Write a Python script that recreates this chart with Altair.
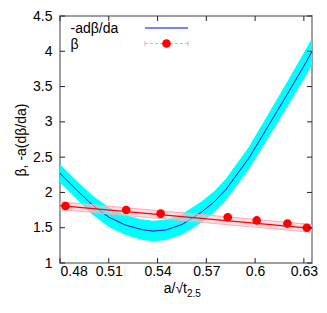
import altair as alt
import pandas as pd

# ---- data ----
beta_x = [0.4834, 0.5207, 0.5419, 0.5832, 0.6010, 0.6199, 0.6318]
beta_y = [1.808, 1.751, 1.700, 1.648, 1.603, 1.559, 1.500]

fit_x = [0.480, 0.635]
fit_y = [1.812, 1.490]
fit_lo = [1.757, 1.435]
fit_hi = [1.867, 1.545]

deriv_x = [0.480, 0.490, 0.500, 0.510, 0.520, 0.530, 0.537, 0.545, 0.555,
           0.567, 0.575, 0.582, 0.596, 0.607, 0.620, 0.632, 0.635]
deriv_y = [2.27, 2.04, 1.82, 1.65, 1.54, 1.475, 1.452, 1.468, 1.545,
           1.72, 1.87, 2.04, 2.48, 2.90, 3.40, 3.87, 4.00]
deriv_lo = [2.14, 1.91, 1.685, 1.51, 1.40, 1.33, 1.307, 1.323, 1.40,
            1.57, 1.718, 1.885, 2.32, 2.73, 3.22, 3.68, 3.81]
deriv_hi = [2.40, 2.17, 1.955, 1.79, 1.68, 1.62, 1.597, 1.613, 1.69,
            1.87, 2.022, 2.195, 2.64, 3.07, 3.58, 4.06, 4.19]

x_ticks = [0.48, 0.51, 0.54, 0.57, 0.60, 0.63]
y_ticks = [1.0, 1.5, 2.0, 2.5, 3.0, 3.5, 4.0, 4.5]

FONT = "Liberation Sans"
W, H = 252, 247
Y_TITLE = "β, -a(dβ/da)"

deriv_df = pd.DataFrame({"x": deriv_x, "y": deriv_y, "lo": deriv_lo, "hi": deriv_hi})
fit_df = pd.DataFrame({"x": fit_x, "y": fit_y, "lo": fit_lo, "hi": fit_hi})
beta_df = pd.DataFrame({"x": beta_x, "y": beta_y})
xt_df = pd.DataFrame({"x": x_ticks})
yt_df = pd.DataFrame({"y": y_ticks})

xs = alt.Scale(domain=[0.48, 0.635], nice=False, zero=False)
ys = alt.Scale(domain=[1, 4.5], nice=False, zero=False)

xaxis = alt.Axis(values=x_ticks, format="~g", grid=False, domain=False,
                 ticks=False, tickSize=0, labelPadding=1,
                 labelFont=FONT, labelFontSize=14, labelColor="black")
yaxis = alt.Axis(values=y_ticks, format="~g", grid=False, domain=False,
                 ticks=False, tickSize=0, labelPadding=8,
                 labelFont=FONT, labelFontSize=14, labelColor="black",
                 titleFont=FONT, titleFontSize=14, titleFontWeight="normal",
                 titleColor="black", titlePadding=4)


def X(f="x"):
    return alt.X(f"{f}:Q", scale=xs, axis=xaxis, title=None)


def Y(f="y"):
    return alt.Y(f"{f}:Q", scale=ys, axis=yaxis, title=Y_TITLE)


cyan_band = alt.Chart(deriv_df).mark_area(color="#00ffff", opacity=1).encode(
    x=X(), y=Y("lo"), y2="hi:Q")
blue_line = alt.Chart(deriv_df).mark_line(color="#0000ff", strokeWidth=1).encode(
    x=X(), y=Y())

pink_band = alt.Chart(fit_df).mark_area(color="#ffc0cb", opacity=0.55).encode(
    x=X(), y=Y("lo"), y2="hi:Q")
pink_lo = alt.Chart(fit_df).mark_line(color="#ffa8b8", strokeWidth=1).encode(x=X(), y=Y("lo"))
pink_hi = alt.Chart(fit_df).mark_line(color="#ffa8b8", strokeWidth=1).encode(x=X(), y=Y("hi"))
red_line = alt.Chart(fit_df).mark_line(color="#ff0000", strokeWidth=1.2).encode(x=X(), y=Y())
red_pts = alt.Chart(beta_df).mark_point(filled=True, color="#ff0000", size=75, opacity=1).encode(
    x=X(), y=Y())

TICK = "#222222"
tick_b = alt.Chart(xt_df).mark_rule(color=TICK, strokeWidth=1).encode(
    x=X(), y=alt.value(H), y2=alt.value(H - 5))
tick_t = alt.Chart(xt_df).mark_rule(color=TICK, strokeWidth=1).encode(
    x=X(), y=alt.value(0), y2=alt.value(5))
tick_l = alt.Chart(yt_df).mark_rule(color=TICK, strokeWidth=1).encode(
    y=Y(), x=alt.value(0), x2=alt.value(5))
tick_r = alt.Chart(yt_df).mark_rule(color=TICK, strokeWidth=1).encode(
    y=Y(), x=alt.value(W), x2=alt.value(W - 5))

one = pd.DataFrame({"t": [""]})


def label(text, x, y, size=14, align="left", color="black"):
    return alt.Chart(pd.DataFrame({"t": [text]})).mark_text(
        align=align, baseline="alphabetic", font=FONT, fontSize=size, color=color
    ).encode(x=alt.value(x), y=alt.value(y), text="t:N")


# x-axis title with subscript
xtitle_main = label("a/√t", 127, H + 30, 14, "right")
xtitle_sub = label("2.5", 127, H + 34, 10, "left")

# legend
leg_t1 = label("-adβ/da", 10.5, 16.5, 14)
leg_t2 = label("β", 10.5, 32.5, 14)
leg_blue = alt.Chart(one).mark_rule(color="#0000ff", strokeWidth=1).encode(
    x=alt.value(85), x2=alt.value(128), y=alt.value(12))
leg_pink = alt.Chart(one).mark_rule(color="#ffa0b0", strokeWidth=1, strokeDash=[3, 2]).encode(
    x=alt.value(85), x2=alt.value(128), y=alt.value(27.5))
leg_cap1 = alt.Chart(one).mark_rule(color="#ffa0b0", strokeWidth=1).encode(
    x=alt.value(85), y=alt.value(25), y2=alt.value(30))
leg_cap2 = alt.Chart(one).mark_rule(color="#ffa0b0", strokeWidth=1).encode(
    x=alt.value(128), y=alt.value(25), y2=alt.value(30))
leg_dot = alt.Chart(one).mark_point(filled=True, color="#ff0000", size=75, opacity=1).encode(
    x=alt.value(106.5), y=alt.value(27.5))

chart = alt.layer(
    cyan_band, blue_line, pink_band, pink_lo, pink_hi, red_line, red_pts,
    tick_b, tick_t, tick_l, tick_r,
    xtitle_main, xtitle_sub,
    leg_t1, leg_t2, leg_blue, leg_pink, leg_cap1, leg_cap2, leg_dot,
).properties(
    width=W, height=H,
    autosize=alt.AutoSizeParams(type="none"),
    padding={"left": 52, "top": 8, "right": 7, "bottom": 37},
).configure_view(
    stroke="#808080", strokeWidth=1.5
)

chart.save("out.html", embed_options={"renderer": "svg", "actions": False})
